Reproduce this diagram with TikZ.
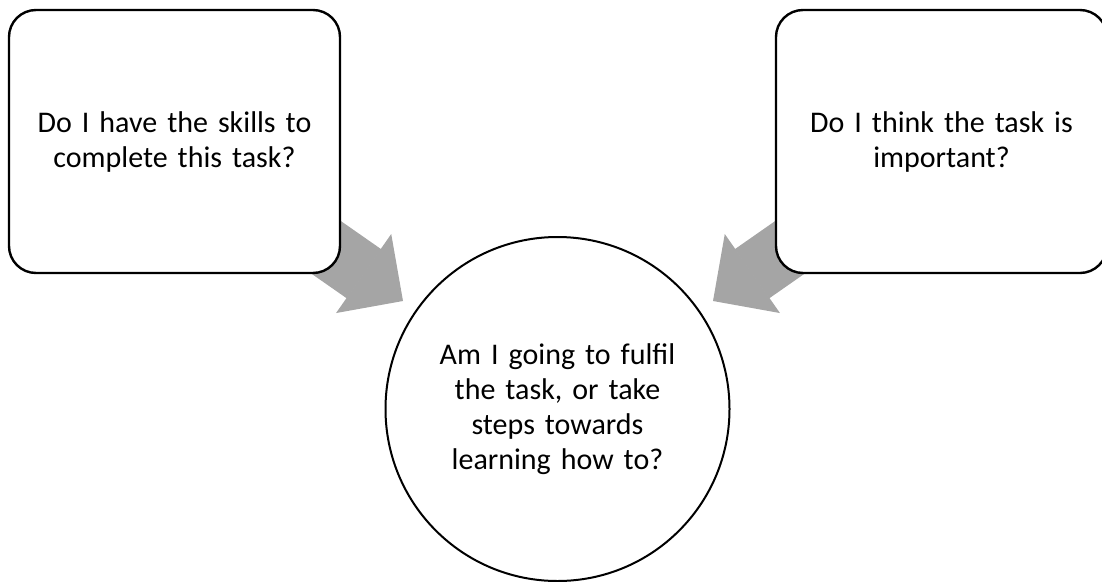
\documentclass[tikz,border=0pt]{standalone}
\usepackage{fontspec}
\setmainfont{Carlito}
\usetikzlibrary{arrows.meta, positioning}

\definecolor{arrowgray}{HTML}{A5A5A5}

\tikzset{
    question/.style={draw, line width=2.4pt, rounded corners=27pt, fill=white,
        minimum width=331pt, minimum height=263pt, text width=310pt, align=center,
        font=\fontsize{30}{35}\selectfont, inner sep=0pt},
    decision/.style={draw, line width=2pt, circle, fill=white, minimum size=344pt,
        text width=260pt, align=center, font=\fontsize{30}{35}\selectfont, inner sep=0pt},
    bigarrow/.style={draw=arrowgray, line width=60pt,
        -{Triangle[width=96pt, length=48pt, line width=2pt]}}
}

\begin{document}
\begin{tikzpicture}[x=1pt, y=1pt]
    \clip (0,0) rectangle (1102,-581);

    \coordinate (tipL) at (403,-301);
    \coordinate (tipR) at (713,-301);

    % arrows go first, the boxes hide their tails
    \coordinate (skillsC) at (174.5,-141.5);
    \coordinate (importantC) at (941.5,-141.5);
    \draw[bigarrow] (skillsC) -- (tipL);
    \draw[bigarrow] (importantC) -- (tipR);

    \node[question] (skills) at (skillsC) {Do I have the skills to\\ complete this task?};
    \node[question] (important) at (importantC) {Do I think the task is\\ important?};
    \node[decision] (fulfil) at (557.5,-409) {Am I going to fulfil\\ the task, or take\\ steps towards\\ learning how to?};
\end{tikzpicture}
\end{document}
